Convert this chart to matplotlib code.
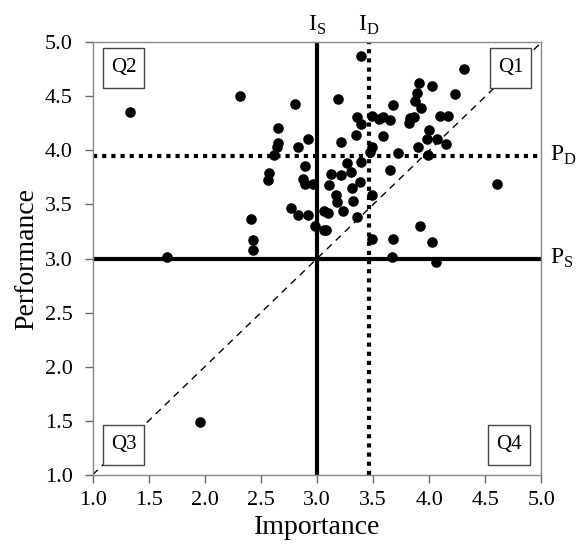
import matplotlib
matplotlib.use("Agg")
import matplotlib.pyplot as plt
from matplotlib.patches import Rectangle

importance = [1.33, 2.31, 2.80, 3.19, 2.655, 2.655, 2.64, 2.62, 2.92, 2.83,
              3.21, 2.89, 2.57, 2.56, 2.87, 2.89, 2.96, 3.12, 3.11, 3.17,
              3.18, 2.77, 2.83, 2.92, 3.06, 3.10, 2.98, 3.06, 3.08, 2.41,
              2.43, 2.43, 1.66, 3.39, 4.31, 3.91, 4.02, 3.89, 3.87, 4.23,
              3.93, 3.68, 3.36, 3.39, 3.49, 3.55, 3.59, 3.65, 3.83, 3.86,
              3.82, 4.10, 4.17, 4.00, 3.98, 4.07, 4.15, 3.90, 3.99, 3.59,
              3.35, 3.49, 3.47, 3.72, 3.39, 3.27, 3.65, 3.21, 3.30, 3.38,
              3.31, 3.32, 3.23, 3.49, 3.36, 4.60, 3.92, 3.49, 3.68, 4.02,
              3.67, 4.06, 1.955]
performance = [4.36, 4.50, 4.43, 4.48, 4.21, 4.07, 4.03, 3.96, 4.11, 4.03,
               4.08, 3.86, 3.79, 3.73, 3.74, 3.69, 3.69, 3.78, 3.68, 3.59,
               3.52, 3.47, 3.40, 3.40, 3.44, 3.42, 3.30, 3.26, 3.26, 3.37,
               3.17, 3.08, 3.01, 4.87, 4.75, 4.62, 4.60, 4.53, 4.46, 4.52,
               4.39, 4.42, 4.31, 4.24, 4.32, 4.29, 4.31, 4.28, 4.30, 4.31,
               4.25, 4.32, 4.32, 4.19, 4.11, 4.11, 4.06, 4.03, 3.96, 4.13,
               4.14, 4.03, 3.99, 3.98, 3.89, 3.88, 3.82, 3.77, 3.80, 3.71,
               3.65, 3.53, 3.44, 3.59, 3.38, 3.69, 3.30, 3.18, 3.18, 3.15,
               3.01, 2.97, 1.49]

I_S, I_D = 3.0, 3.46
P_S, P_D = 3.0, 3.95
ticks = [1.0, 1.5, 2.0, 2.5, 3.0, 3.5, 4.0, 4.5, 5.0]
tick_labels = ["1.0", "1.5", "2.0", "2.5", "3.0", "3.5", "4.0", "4.5", "5.0"]
quadrants = ["Q1", "Q2", "Q3", "Q4"]

plt.rcParams['font.family'] = ['Liberation Serif', 'DejaVu Serif']
plt.rcParams['mathtext.fontset'] = 'custom'
plt.rcParams['mathtext.rm'] = 'Liberation Serif'
fig = plt.figure(figsize=(5.76, 5.5), dpi=100)
ax = fig.add_axes([0.161, 0.137, 0.779, 0.786])
ax.set_xlim(1, 5)
ax.set_ylim(1, 5)

# diagonal
ax.plot([1, 5], [1, 5], color='black', lw=1.0, ls=(0, (5, 4)), zorder=1)
# thresholds
ax.axvline(I_S, color='black', lw=3, zorder=2)
ax.axhline(P_S, color='black', lw=3, zorder=2)
ax.axvline(I_D, color='black', lw=3, ls=(0, (1, 1.2)), zorder=2)
ax.axhline(P_D, color='black', lw=3, ls=(0, (1, 1.2)), zorder=2)

ax.scatter(importance, performance, s=58, color='black', zorder=3, linewidths=0)

# quadrant boxes (axes fractions: x0, y0, w, h)
bw, bh = 0.092, 0.093
boxes = {"Q1": (0.885, 0.895), "Q2": (0.023, 0.895),
         "Q3": (0.023, 0.023), "Q4": (0.882, 0.023)}
for q in quadrants:
    x0, y0 = boxes[q]
    ax.add_patch(Rectangle((x0, y0), bw, bh, transform=ax.transAxes,
                           facecolor='white', edgecolor='#444444', lw=1, zorder=4))
    ax.text(x0 + bw / 2, y0 + bh / 2, q, transform=ax.transAxes, ha='center',
            va='center', fontsize=15, zorder=5)

ax.text(I_S, 5.05, r"I$_\mathrm{S}$", ha='center', va='bottom', fontsize=17)
ax.text(I_D, 5.05, r"I$_\mathrm{D}$", ha='center', va='bottom', fontsize=17)
ax.text(5.08, P_D, r"P$_\mathrm{D}$", ha='left', va='center', fontsize=17)
ax.text(5.08, P_S, r"P$_\mathrm{S}$", ha='left', va='center', fontsize=17)

ax.set_xticks(ticks)
ax.set_xticklabels(tick_labels)
ax.set_yticks(ticks)
ax.set_yticklabels(tick_labels)
ax.tick_params(direction='out', length=5.5, width=1, color='#666666', labelsize=16)
ax.tick_params(axis='x', pad=6)
ax.tick_params(axis='y', pad=9)
for s in ax.spines.values():
    s.set_color('#888888')
    s.set_linewidth(1)
ax.set_xlabel("Importance", fontsize=20, labelpad=4)
ax.set_ylabel("Performance", fontsize=20, labelpad=4)

fig.savefig("out.png", dpi=100)
